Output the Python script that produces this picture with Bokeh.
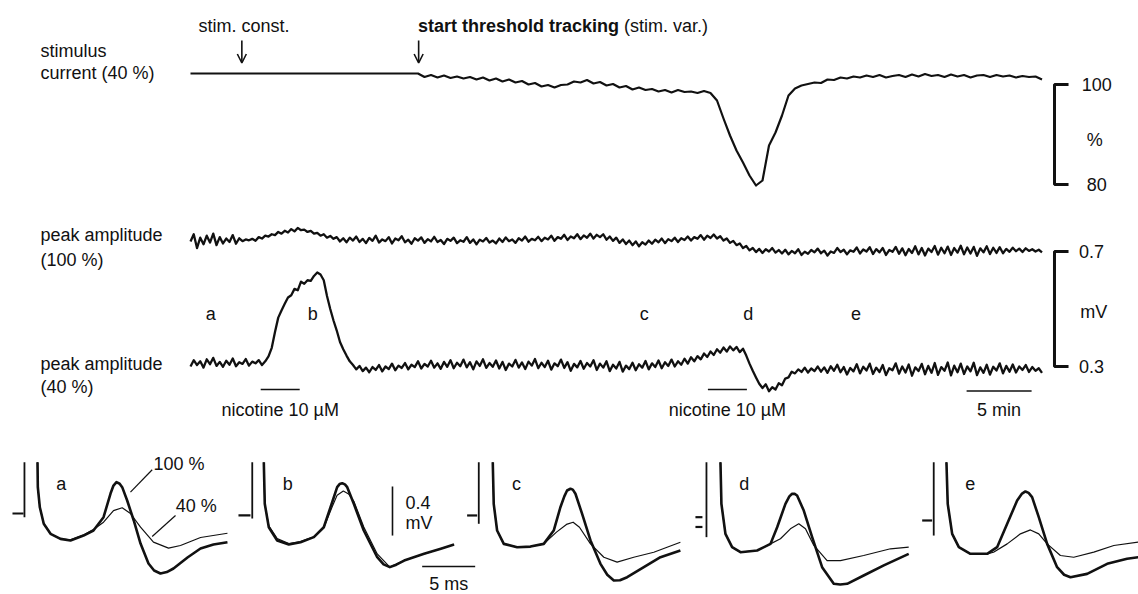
from bokeh.plotting import figure
from bokeh.models import Range1d, Label, Arrow, OpenHead
from bokeh.layouts import column
from bokeh.embed import file_html
from bokeh.resources import INLINE

FONT = "Liberation Sans"
INK = "#111111"

# ---------------- top: time course (minutes) ----------------
DT_MIN = 0.25          # sampling of the amplitude traces
PEAK_AMP_100_MV = [
    0.735, 0.760, 0.712, 0.748, 0.725, 0.755, 0.731, 0.762,
    0.722, 0.750, 0.728, 0.745, 0.733, 0.757, 0.727, 0.746,
    0.736, 0.742, 0.739,
    0.744, 0.737, 0.750, 0.745, 0.755, 0.752, 0.760, 0.757, 0.768, 0.762, 0.772, 0.766,
    0.778, 0.770, 0.782, 0.774,
    0.776, 0.768, 0.772, 0.762, 0.765, 0.755, 0.760, 0.748, 0.754, 0.744,
    0.750, 0.735, 0.746, 0.732, 0.748, 0.738, 0.752, 0.733, 0.744, 0.729, 0.747, 0.737,
    0.755, 0.731, 0.742, 0.736, 0.750, 0.728, 0.745, 0.739, 0.753, 0.732, 0.741, 0.727,
    0.746, 0.738, 0.749, 0.730, 0.743, 0.735, 0.751, 0.733, 0.740, 0.726, 0.744, 0.737,
    0.748, 0.729, 0.739, 0.734, 0.750, 0.730, 0.742, 0.725, 0.741, 0.735, 0.747, 0.731,
    0.738, 0.728, 0.745, 0.733, 0.749, 0.736, 0.742, 0.730, 0.746, 0.738, 0.752, 0.734,
    0.744, 0.739, 0.751, 0.736, 0.748, 0.742, 0.755, 0.737, 0.750, 0.744, 0.758, 0.740,
    0.752, 0.746, 0.760, 0.743, 0.756, 0.748, 0.762, 0.745, 0.758, 0.750, 0.760, 0.741,
    0.752, 0.737, 0.748, 0.730, 0.742, 0.726, 0.738, 0.722, 0.735, 0.718, 0.732, 0.724,
    0.738, 0.727, 0.741, 0.732, 0.745, 0.729, 0.743, 0.736, 0.748, 0.733, 0.746, 0.740,
    0.752, 0.738, 0.750, 0.744, 0.757, 0.741, 0.755, 0.747, 0.759, 0.745, 0.753, 0.738,
    0.745, 0.730, 0.737, 0.722, 0.728, 0.712, 0.719, 0.704, 0.712, 0.698, 0.709,
    0.695, 0.708, 0.700, 0.712, 0.696, 0.705, 0.693, 0.706, 0.690, 0.702, 0.694, 0.708,
    0.688, 0.699, 0.692, 0.705, 0.697, 0.710, 0.694, 0.703, 0.686, 0.700, 0.695, 0.712,
    0.698, 0.706, 0.690, 0.704, 0.699, 0.714, 0.693, 0.707, 0.700, 0.715, 0.691, 0.708,
    0.697, 0.712, 0.688, 0.705, 0.699, 0.716, 0.692, 0.711, 0.687, 0.709, 0.695, 0.718,
    0.690, 0.712, 0.686, 0.710, 0.698, 0.719, 0.689, 0.713, 0.694, 0.717, 0.688, 0.712,
    0.696, 0.720, 0.690, 0.714, 0.693, 0.716, 0.685, 0.711, 0.697, 0.718, 0.691, 0.713,
    0.695, 0.715, 0.694, 0.709, 0.699, 0.713, 0.701, 0.710, 0.698, 0.711, 0.702, 0.708,
    0.700, 0.706, 0.697,
]
PEAK_AMP_40_MV = [
    0.300, 0.322, 0.305, 0.318, 0.296, 0.325, 0.308, 0.330,
    0.302, 0.316, 0.299, 0.320, 0.306, 0.328, 0.301, 0.315,
    0.309, 0.326, 0.303, 0.317, 0.311, 0.322, 0.305, 0.318,
    0.335, 0.365, 0.420, 0.470, 0.495, 0.518, 0.540, 0.548, 0.570, 0.565,
    0.595, 0.588, 0.600, 0.598, 0.615, 0.627, 0.620, 0.600, 0.545, 0.500,
    0.460, 0.425, 0.385, 0.360, 0.338, 0.318, 0.305,
    0.290, 0.302, 0.284, 0.296, 0.280, 0.298, 0.288, 0.305, 0.283, 0.300,
    0.291, 0.310, 0.287, 0.303, 0.295, 0.312, 0.290, 0.306, 0.298, 0.318,
    0.293, 0.309, 0.300, 0.320, 0.296, 0.311, 0.292, 0.316, 0.299, 0.322,
    0.294, 0.313, 0.301, 0.324, 0.297, 0.315, 0.290, 0.318, 0.302, 0.325,
    0.295, 0.312, 0.299, 0.321, 0.293, 0.316, 0.288, 0.310, 0.300, 0.323,
    0.296, 0.314, 0.291, 0.317, 0.303, 0.326, 0.294, 0.313, 0.298, 0.320,
    0.289, 0.311, 0.301, 0.324, 0.295, 0.315, 0.285, 0.309, 0.297, 0.319,
    0.292, 0.312, 0.300, 0.322, 0.288, 0.310, 0.296, 0.318, 0.284, 0.306,
    0.293, 0.316, 0.282, 0.303, 0.291, 0.313, 0.287, 0.308, 0.296, 0.319,
    0.290, 0.311, 0.298, 0.321, 0.294, 0.315, 0.302, 0.324, 0.300, 0.318,
    0.306, 0.327, 0.310, 0.332, 0.318, 0.336,
    0.325, 0.345, 0.333, 0.352, 0.340, 0.360, 0.348, 0.366, 0.352, 0.370,
    0.356, 0.368, 0.350, 0.362, 0.338, 0.310, 0.285, 0.262, 0.240, 0.225,
    0.238, 0.214, 0.228, 0.220, 0.242, 0.235, 0.258, 0.262, 0.282, 0.276,
    0.290, 0.281,
    0.296, 0.279, 0.293, 0.284, 0.300, 0.282, 0.297, 0.278, 0.301, 0.285,
    0.306, 0.280, 0.298, 0.272, 0.295, 0.283, 0.308, 0.276, 0.299, 0.286,
    0.310, 0.274, 0.296, 0.281, 0.305, 0.270, 0.294, 0.287, 0.311, 0.275,
    0.300, 0.279, 0.307, 0.268, 0.297, 0.284, 0.309, 0.273, 0.302, 0.278,
    0.312, 0.271, 0.298, 0.285, 0.314, 0.269, 0.303, 0.280, 0.310, 0.274,
    0.300, 0.283, 0.313, 0.270, 0.297, 0.278, 0.306, 0.272, 0.299, 0.286,
    0.311, 0.276, 0.302, 0.282, 0.307, 0.279, 0.300, 0.288, 0.305, 0.281,
    0.298, 0.285, 0.294, 0.278,
]
STIM_CONST_PCT = 102.2        # constant stimulus before tracking
TRACK_START_MIN = 17.5        # start of threshold tracking
DT_STIM_MIN = 0.5
STIM_VAR_PCT = [
    102.2, 101.5, 101.9, 101.4, 101.8, 101.3, 101.6, 101.2, 101.5, 101.0,
    101.4, 100.8, 101.2, 100.6, 101.0, 100.4, 100.7, 100.0, 100.3, 99.6,
    99.9, 99.4, 99.9, 100.0, 100.6, 100.4, 100.9, 100.2, 100.5, 99.8,
    100.1, 99.4, 99.7, 99.0, 99.4, 98.9, 99.1, 98.6, 98.9, 98.4,
    98.9, 98.5, 98.6, 98.3, 98.7, 98.3, 96.8, 93.2, 89.8, 86.8,
    84.4, 81.8, 79.8, 80.8, 87.8, 90.4, 93.8, 97.8, 99.2, 99.8,
    100.1, 100.4, 100.3, 101.0, 100.9, 101.4, 101.2, 101.6, 101.4, 101.8,
    101.5, 101.9, 101.4, 101.7, 101.9, 101.5, 102.0, 101.6, 102.1, 101.7,
    101.9, 101.5, 102.0, 101.6, 101.9, 101.4, 101.8, 101.9, 101.5, 101.9,
    101.6, 101.8, 101.4, 101.7, 101.5, 101.6, 101.0,
]
STIM_CONST_ARROW_MIN = 3.95
NICOTINE_MIN = [(5.4, 8.4), (39.8, 42.8)]
SCALE_MIN = (59.7, 64.7)      # 5 min
SAMPLE_NAMES = ["a", "b", "c", "d", "e"]
SAMPLE_MIN = [1.55, 9.4, 34.9, 42.9, 51.2]
PCT_BAR = (100, 80)
MV_BAR = (0.7, 0.3)

# ---------------- bottom: averaged responses (ms, mV) ----------------
PANEL_OFFSET_MS = [0.0, 21.35, 42.95, 64.43, 85.75]
A_T100 = [0.0, 0.03, 0.22, 0.59, 1.23, 2.17, 3.11, 4.34, 5.28, 6.23, 6.89, 7.15, 7.45, 7.75, 7.99, 8.46, 9.08, 9.72, 10.47, 11.0, 11.60, 12.2, 12.83, 14.15, 15.38, 16.60, 17.92]
A_V100 = [0.419, 0.215, 0.051, -0.084, -0.166, -0.207, -0.220, -0.180, -0.139, -0.030, 0.163, 0.225, 0.256, 0.243, 0.215, 0.106, -0.057, -0.245, -0.408, -0.465, -0.490, -0.478, -0.449, -0.359, -0.286, -0.253, -0.234]
A_T40 = [0.0, 0.03, 0.22, 0.59, 1.23, 2.17, 3.11, 4.34, 5.28, 6.23, 7.17, 7.99, 8.77, 9.72, 10.94, 12.36, 13.49, 15.38, 17.92]
A_V40 = [0.419, 0.215, 0.051, -0.084, -0.166, -0.207, -0.215, -0.175, -0.130, -0.071, 0.024, 0.047, 0.0, -0.112, -0.234, -0.283, -0.261, -0.196, -0.161]
B_T100 = [0.0, 0.09, 0.47, 1.26, 2.36, 3.46, 4.72, 5.66, 6.45, 6.92, 7.15, 7.40, 7.65, 7.87, 8.49, 9.43, 10.70, 11.30, 11.89, 12.5, 13.24, 15.12, 16.70, 17.95]
B_V100 = [0.419, 0.079, -0.112, -0.220, -0.253, -0.234, -0.193, -0.112, 0.092, 0.215, 0.240, 0.247, 0.238, 0.215, 0.079, -0.139, -0.357, -0.415, -0.438, -0.418, -0.384, -0.329, -0.288, -0.253]
B_T40 = [0.0, 0.09, 0.47, 1.26, 2.36, 3.46, 4.72, 5.66, 6.45, 6.92, 7.50, 8.0, 8.49, 9.43, 10.70, 11.89, 13.24, 15.12, 16.70, 17.95]
B_V40 = [0.419, 0.079, -0.100, -0.205, -0.245, -0.230, -0.190, -0.115, 0.055, 0.150, 0.183, 0.160, 0.100, -0.110, -0.330, -0.438, -0.384, -0.329, -0.288, -0.253]
C_T100 = [0.0, 0.09, 0.41, 1.04, 2.30, 3.55, 4.81, 5.75, 6.38, 6.75, 7.01, 7.33, 7.55, 7.80, 8.43, 9.22, 10.16, 10.8, 11.42, 12.0, 12.68, 14.25, 15.82, 17.70]
C_V100 = [0.419, 0.079, -0.139, -0.248, -0.275, -0.270, -0.248, -0.139, 0.051, 0.140, 0.188, 0.202, 0.195, 0.161, -0.003, -0.220, -0.411, -0.500, -0.547, -0.545, -0.520, -0.438, -0.357, -0.302]
C_T40 = [0.0, 0.09, 0.41, 1.04, 2.30, 3.55, 4.81, 6.01, 6.95, 7.58, 8.18, 9.22, 10.48, 11.73, 13.30, 15.19, 17.70]
C_V40 = [0.419, 0.079, -0.139, -0.248, -0.275, -0.270, -0.248, -0.152, -0.089, -0.071, -0.112, -0.248, -0.357, -0.397, -0.357, -0.316, -0.235]
D_T100 = [0.0, 0.09, 0.47, 1.10, 1.89, 3.46, 4.72, 5.35, 6.13, 6.50, 6.76, 7.0, 7.23, 7.86, 8.65, 9.59, 10.69, 11.3, 11.95, 13.51, 15.41, 17.76]
D_V100 = [0.419, 0.079, -0.166, -0.275, -0.316, -0.302, -0.248, -0.112, 0.079, 0.140, 0.161, 0.160, 0.147, 0.024, -0.193, -0.438, -0.574, -0.580, -0.574, -0.506, -0.424, -0.329]
D_T40 = [0.0, 0.09, 0.47, 1.10, 1.89, 3.46, 4.72, 5.66, 6.60, 7.39, 8.02, 8.81, 10.06, 11.32, 13.51, 16.04, 17.76]
D_V40 = [0.419, 0.079, -0.166, -0.275, -0.316, -0.302, -0.248, -0.206, -0.125, -0.084, -0.125, -0.261, -0.384, -0.384, -0.343, -0.288, -0.275]
E_T100 = [0.0, 0.12, 0.54, 1.17, 2.26, 3.84, 4.78, 5.73, 6.67, 7.10, 7.45, 7.75, 8.08, 8.71, 9.50, 10.44, 11.1, 11.70, 13.27, 15.16, 17.04, 18.11]
E_V100 = [0.419, 0.079, -0.166, -0.275, -0.329, -0.329, -0.275, -0.084, 0.106, 0.160, 0.180, 0.168, 0.134, -0.030, -0.248, -0.438, -0.500, -0.520, -0.493, -0.411, -0.370, -0.357]
E_T40 = [0.0, 0.12, 0.54, 1.17, 2.26, 3.84, 4.44, 5.73, 6.98, 7.92, 8.71, 9.50, 10.75, 12.01, 13.90, 15.79, 18.11]
E_V40 = [0.419, 0.079, -0.166, -0.275, -0.329, -0.329, -0.316, -0.248, -0.166, -0.134, -0.166, -0.248, -0.343, -0.357, -0.315, -0.261, -0.234]
TRACES_100 = [(A_T100, A_V100), (B_T100, B_V100), (C_T100, C_V100), (D_T100, D_V100), (E_T100, E_V100)]
TRACES_40 = [(A_T40, A_V40), (B_T40, B_V40), (C_T40, C_V40), (D_T40, D_V40), (E_T40, E_V40)]
# stimulus artefact: short baseline stubs and the vertical artefact line
ART_STUB_X = [(-2.36, -1.32), (-2.39, -1.26), (-2.42, -1.47), (-2.36, -1.70), (-2.29, -1.35)]
ART_STUB_Y = [[0.0], [-0.016], [-0.016], [-0.030, -0.110], [-0.057]]
ART_LINE_X = [-1.23, -1.09, -1.32, -1.32, -1.20]
ART_LINE_BOTTOM = [-0.030, -0.041, -0.084, -0.193, -0.180]
ART_TOP = 0.419
MV_SCALE = 0.4
MS_SCALE = 5.0


def make_fig(w, h, xr, yr):
    p = figure(width=w, height=h, x_range=Range1d(*xr), y_range=Range1d(*yr),
               output_backend="svg", toolbar_location=None, min_border=0,
               x_axis_location=None, y_axis_location=None)
    p.outline_line_color = None
    p.grid.visible = False
    p.background_fill_color = "white"
    p.border_fill_color = "white"
    return p


def lab(p, x, y, text, align="left", bold=False, yr=None, x_offset=0, size=18):
    kw = dict(x=x, y=y, text=text, text_font=FONT, text_font_size=f"{size}px",
              text_align=align, text_baseline="middle", text_color=INK, x_offset=x_offset)
    if yr:
        kw["y_range_name"] = yr
    if bold:
        kw["text_font_style"] = "bold"
    p.add_layout(Label(**kw))


# ---------- top figure ----------
top = make_fig(1138, 430, (-14.615, 72.923), (30.8, 116.8))
top.extra_y_ranges = {"mV": Range1d(0.0774, 1.5730)}

stim_t = [0.0] + [TRACK_START_MIN + i * DT_STIM_MIN for i in range(len(STIM_VAR_PCT))]
stim_v = [STIM_CONST_PCT] + STIM_VAR_PCT
top.line(stim_t, stim_v, line_color=INK, line_width=2.2, line_join="round")

t100 = [i * DT_MIN for i in range(len(PEAK_AMP_100_MV))]
t40 = [i * DT_MIN for i in range(len(PEAK_AMP_40_MV))]
top.line(t100, PEAK_AMP_100_MV, y_range_name="mV", line_color=INK, line_width=2.3, line_join="round")
top.line(t40, PEAK_AMP_40_MV, y_range_name="mV", line_color=INK, line_width=2.3, line_join="round")

# scale bars
bx0, bx1 = 66.46, 67.54
top.line([bx1, bx0, bx0, bx1], [PCT_BAR[0], PCT_BAR[0], PCT_BAR[1], PCT_BAR[1]],
         line_color=INK, line_width=3)
top.line([bx1, bx0, bx0, bx1], [MV_BAR[0], MV_BAR[0], MV_BAR[1], MV_BAR[1]],
         y_range_name="mV", line_color=INK, line_width=3)
lab(top, 68.55, PCT_BAR[0], "100")
lab(top, 68.95, (PCT_BAR[0] + PCT_BAR[1]) / 2 - 1, "%")
lab(top, 68.95, PCT_BAR[1], "80")
lab(top, 68.35, MV_BAR[0], "0.7", yr="mV")
lab(top, 68.45, (MV_BAR[0] + MV_BAR[1]) / 2 - 0.01, "mV", yr="mV")
lab(top, 68.35, MV_BAR[1], "0.3", yr="mV")

# nicotine bars and time scale
for (a, b) in NICOTINE_MIN:
    top.line([a, b], [0.22, 0.22], y_range_name="mV", line_color=INK, line_width=1.6)
    lab(top, (a + b) / 2, 0.147, "nicotine 10 µM", align="center", yr="mV")
top.line(list(SCALE_MIN), [0.215, 0.215], y_range_name="mV", line_color=INK, line_width=1.6)
lab(top, sum(SCALE_MIN) / 2, 0.147, "5 min", align="center", yr="mV")

for name, t in zip(SAMPLE_NAMES, SAMPLE_MIN):
    lab(top, t, 0.484, name, align="center", yr="mV")

# left labels
lab(top, -11.54, 106.8, "stimulus")
lab(top, -11.54, 102.25, "current (40 %)")
lab(top, -11.54, 0.759, "peak amplitude", yr="mV")
lab(top, -11.54, 0.672, "(100 %)", yr="mV")
lab(top, -11.54, 0.307, "peak amplitude", yr="mV")
lab(top, -11.54, 0.227, "(40 %)", yr="mV")

# event annotations
lab(top, 0.62, 111.8, "stim. const.")
lab(top, TRACK_START_MIN, 111.8, "start threshold tracking", bold=True)
lab(top, TRACK_START_MIN, 111.8, "(stim. var.)", x_offset=206)
for tx in (STIM_CONST_ARROW_MIN, TRACK_START_MIN + 0.05):
    top.add_layout(Arrow(end=OpenHead(size=9, line_width=1.6, line_color=INK),
                         x_start=tx, y_start=108.8, x_end=tx, y_end=104.3,
                         line_width=1.6, line_color=INK))

# ---------- bottom figure ----------
bot = make_fig(1138, 164, (-3.4906, 103.868), (-0.6612, 0.6776))
for i, off in enumerate(PANEL_OFFSET_MS):
    tt, vv = TRACES_40[i]
    bot.line([t + off for t in tt], vv, line_color=INK, line_width=1.2, line_join="round")
    tt, vv = TRACES_100[i]
    bot.line([t + off for t in tt], vv, line_color=INK, line_width=2.6, line_join="round")
    x0, x1 = ART_STUB_X[i]
    for y in ART_STUB_Y[i]:
        bot.line([x0 + off, x1 + off], [y, y], line_color=INK, line_width=2.2)
    bot.line([ART_LINE_X[i] + off] * 2, [ART_TOP, ART_LINE_BOTTOM[i]], line_color=INK, line_width=1.8)
    lab(bot, 2.25 + off, 0.242, SAMPLE_NAMES[i], align="center")

# labels for the two stimulus strengths (panel a)
bot.line([8.77, 10.82], [0.174, 0.357], line_color=INK, line_width=1.2)
bot.line([10.82, 13.02], [-0.188, -0.016], line_color=INK, line_width=1.2)
lab(bot, 10.94, 0.408, "100 %")
lab(bot, 13.05, 0.065, "40 %")

# scale bars (panel b)
sbx = 33.49
bot.line([sbx, sbx], [0.22, 0.22 - MV_SCALE], line_color=INK, line_width=1.6)
lab(bot, sbx + 1.23, 0.086, "0.4")
lab(bot, sbx + 1.23, -0.078, "mV")
bot.line([36.29, 36.29 + MS_SCALE], [-0.433, -0.433], line_color=INK, line_width=1.6)
lab(bot, 36.29 + MS_SCALE / 2, -0.578, "5 ms", align="center")

layout = column(top, bot)
open("out.html", "w").write(file_html(layout, INLINE))
